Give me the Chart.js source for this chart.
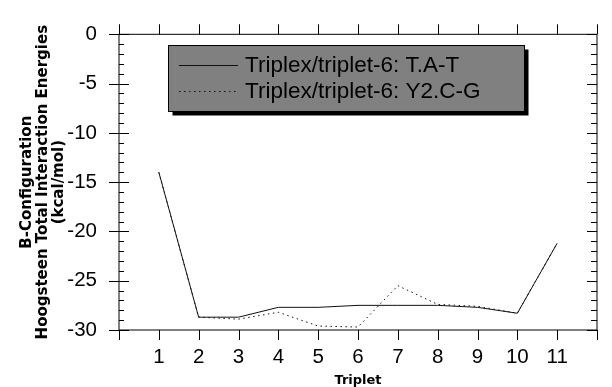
<!DOCTYPE html>
<html>
<head>
<meta charset="utf-8">
<script src="https://cdn.jsdelivr.net/npm/chart.js@4/dist/chart.umd.min.js"></script>
<style>
  html, body { margin: 0; padding: 0; background: #fff; }
  #wrap { width: 612px; height: 387px; }
</style>
</head>
<body>
<div id="wrap"><canvas id="myChart" width="612" height="387"></canvas></div>
<script>
// values
var triplets = [1, 2, 3, 4, 5, 6, 7, 8, 9, 10, 11];
var tatValues = [-14.0, -28.7, -28.7, -27.7, -27.7, -27.5, -27.5, -27.5, -27.7, -28.3, -21.2];
var y2cgValues = [-14.0, -28.7, -28.9, -28.2, -29.6, -29.7, -25.5, -27.4, -27.6, -28.3, -21.2];
var seriesLabels = ['Triplex/triplet-6: T.A-T', 'Triplex/triplet-6: Y2.C-G'];
var yTitle = ['B-Configuration', 'Hoogsteen Total Interaction Energies', '(kcal/mol)'];
var xTitle = 'Triplet';

var FONT = "'Liberation Sans', Arial, sans-serif";
var TITLE_FONT = "'DejaVu Sans', Verdana, sans-serif";

function toPoints(values) {
  return values.map(function (v, i) { return { x: triplets[i], y: v }; });
}

// frame with ticks on all four sides, drawn from the scales
var framePlugin = {
  id: 'frame',
  afterDatasetsDraw: function (chart) {
    var ctx = chart.ctx;
    var xs = chart.scales.x, ys = chart.scales.y;
    var left = xs.getPixelForValue(xs.min), right = xs.getPixelForValue(xs.max);
    var top = ys.getPixelForValue(ys.max), bottom = ys.getPixelForValue(ys.min);
    ctx.save();
    ctx.strokeStyle = '#000';
    ctx.lineWidth = 1;
    ctx.beginPath();
    ctx.rect(left, top, right - left, bottom - top);
    // x ticks: out on top and bottom
    for (var v = xs.min; v <= xs.max; v++) {
      var px = Math.round(xs.getPixelForValue(v)) + 0.5;
      ctx.moveTo(px, top); ctx.lineTo(px, top - 10);
      ctx.moveTo(px, bottom); ctx.lineTo(px, bottom + 10);
    }
    // y ticks
    for (var w = ys.min; w <= ys.max; w++) {
      var py = Math.round(ys.getPixelForValue(w)) + 0.5;
      if (w % 5 === 0) {
        ctx.moveTo(left - 10, py); ctx.lineTo(left + 10, py);
        ctx.moveTo(right, py); ctx.lineTo(right - 10, py);
      } else {
        ctx.moveTo(left, py); ctx.lineTo(left + 5, py);
        ctx.moveTo(right, py); ctx.lineTo(right - 6, py);
      }
    }
    ctx.stroke();
    ctx.restore();
  }
};

// grey boxed legend with drop shadow
var boxLegend = {
  id: 'boxLegend',
  afterDraw: function (chart) {
    var ctx = chart.ctx;
    var bx = 168.5, by = 45.5, bw = 356, bh = 66;
    ctx.save();
    ctx.fillStyle = '#000';
    ctx.fillRect(bx + 4, by + 4, bw, bh);
    ctx.fillStyle = '#808080';
    ctx.fillRect(bx, by, bw, bh);
    ctx.strokeStyle = '#000';
    ctx.lineWidth = 1;
    ctx.strokeRect(bx, by, bw, bh);
    ctx.font = '22.5px ' + FONT;
    ctx.textBaseline = 'middle';
    chart.data.datasets.forEach(function (ds, i) {
      var y = Math.round(by + 19 + i * 26) + 0.5;
      ctx.beginPath();
      ctx.setLineDash(ds.borderDash || []);
      ctx.strokeStyle = ds.borderColor;
      ctx.moveTo(179, y); ctx.lineTo(238, y);
      ctx.stroke();
      ctx.setLineDash([]);
      ctx.fillStyle = '#000';
      ctx.fillText(ds.label, 245, y);
    });
    ctx.restore();
  }
};

var ctx = document.getElementById('myChart').getContext('2d');
var myChart = new Chart(ctx, {
  type: 'line',
  data: {
    datasets: [{
      label: seriesLabels[0],
      data: toPoints(tatValues),
      borderColor: '#111',
      borderWidth: 1,
      pointRadius: 0,
      tension: 0
    }, {
      label: seriesLabels[1],
      data: toPoints(y2cgValues),
      borderColor: '#111',
      borderWidth: 1,
      borderDash: [1.5, 3.5],
      pointRadius: 0,
      tension: 0
    }]
  },
  options: {
    responsive: false,
    animation: false,
    devicePixelRatio: 1,
    layout: { padding: { top: 24.5, right: 3, left: 0, bottom: 0 } },
    plugins: { legend: { display: false }, tooltip: { enabled: false } },
    scales: {
      x: {
        type: 'linear',
        min: 0,
        max: 12,
        grid: { display: false, drawTicks: false },
        border: { display: false },
        ticks: {
          stepSize: 1,
          autoSkip: false,
          maxRotation: 0,
          padding: 15,
          color: '#000',
          font: { family: FONT, size: 20.5 },
          callback: function (v) { return (v >= 1 && v <= 11) ? v : ''; }
        },
        title: {
          display: true,
          text: xTitle,
          color: '#000',
          font: { family: TITLE_FONT, size: 13, weight: 'bold', lineHeight: 1.0 },
          padding: { top: 0, bottom: 0 }
        },
        afterFit: function (s) { s.height = 57; }
      },
      y: {
        min: -30,
        max: 0,
        grid: { display: false, drawTicks: false },
        border: { display: false },
        ticks: {
          stepSize: 5,
          padding: 22,
          color: '#000',
          font: { family: FONT, size: 20.5 }
        },
        title: {
          display: true,
          text: yTitle,
          color: '#000',
          font: { family: TITLE_FONT, size: 15, weight: 'bold', lineHeight: '16px' },
          padding: { top: 19, bottom: 0 }
        },
        afterFit: function (s) { s.width = 119; }
      }
    }
  },
  plugins: [framePlugin, boxLegend]
});
</script>
</body>
</html>
